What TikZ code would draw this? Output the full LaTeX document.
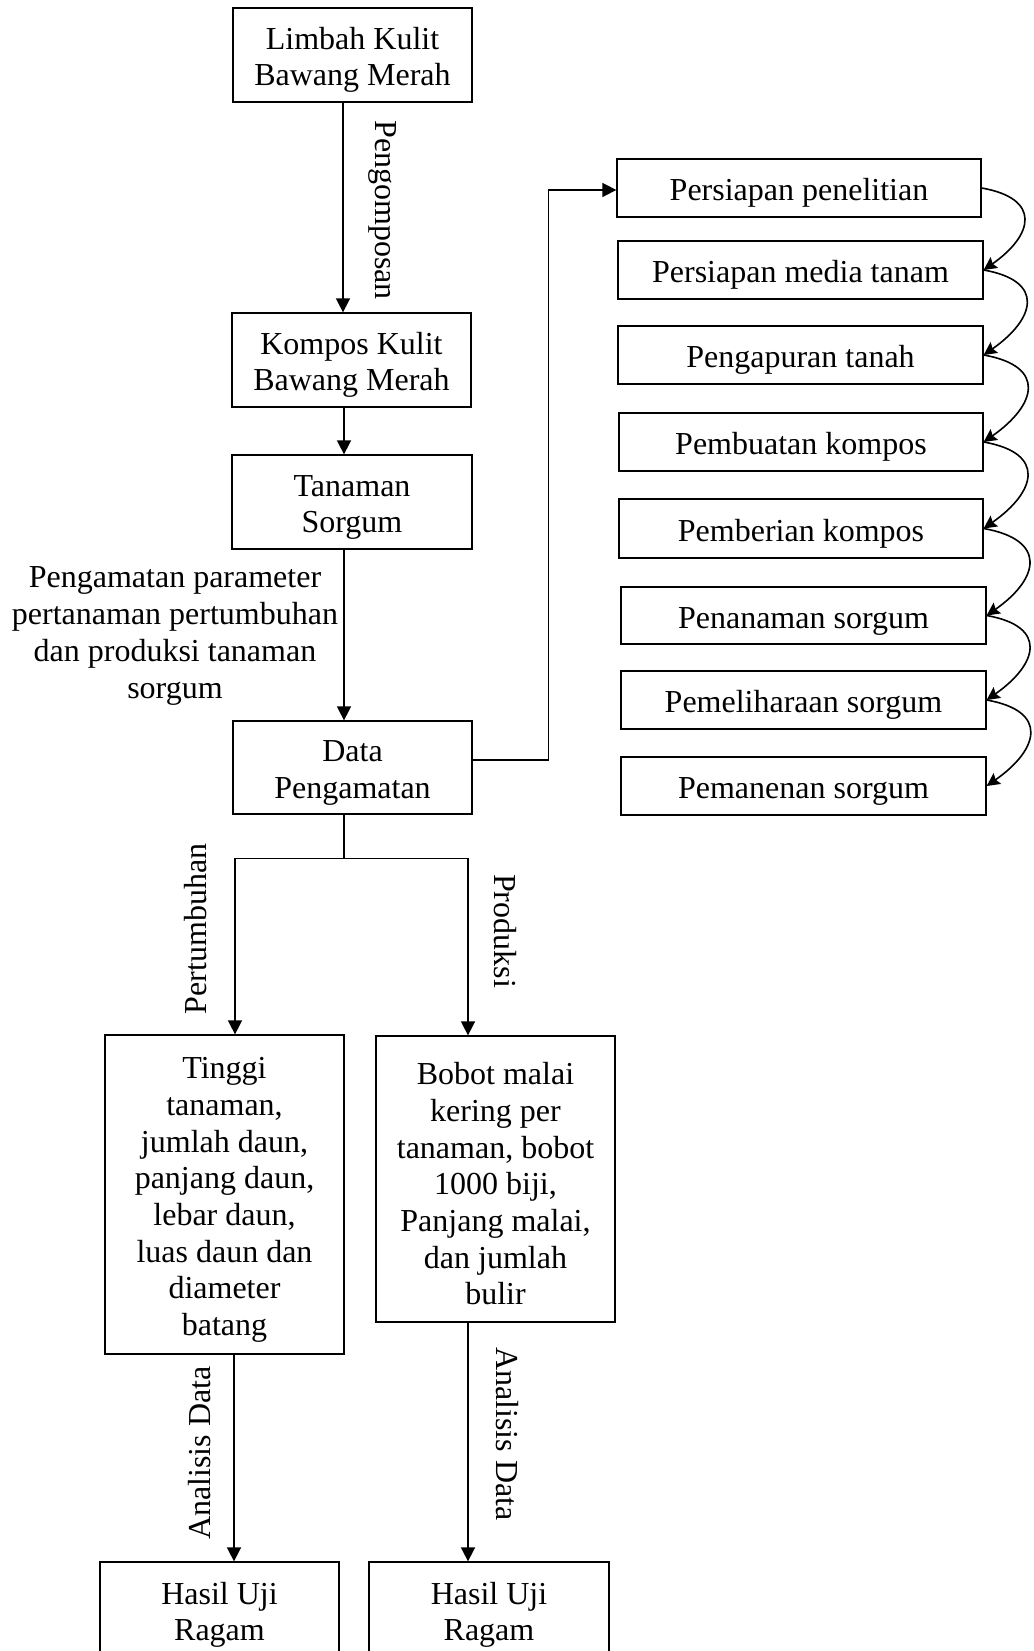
\documentclass[tikz,border=0pt]{standalone}
\usepackage{fontspec}
\setmainfont{Liberation Serif}
\usetikzlibrary{arrows.meta}
\newcommand\fsz{\fontsize{32}{36.7}\selectfont}
\newcommand\tp{\rule{0pt}{32pt}}
\tikzset{
 box/.style={draw, line width=1.3pt, inner sep=0pt, align=center, font=\fsz},
 arr/.style={line width=1.6pt, -{Triangle[width=14pt,length=14pt]}},
 carr/.style={line width=1.6pt, -{Stealth[width=13pt,length=13pt,inset=2pt]}},
 lbl/.style={font=\fsz, inner sep=0pt, align=center}
}
\begin{document}
\begin{tikzpicture}[x=1pt,y=1pt]
\useasboundingbox (0,0) rectangle (1033,-1651);
\clip (0,0) rectangle (1033,-1651);
% left column
\node[box, minimum width=239pt, minimum height=94pt] (limbah) at (352.5,-55) {\tp Limbah Kulit\\Bawang Merah};
\node[box, minimum width=239pt, minimum height=94pt] (kompos) at (351.5,-360) {\tp Kompos Kulit\\Bawang Merah};
\node[box, minimum width=240pt, minimum height=94pt] (tanaman) at (352,-502) {\tp Tanaman\\Sorgum};
\node[box, minimum width=239pt, minimum height=93pt] (data) at (352.5,-767.5) {\tp Data\\Pengamatan};
% right column
\node[box, minimum width=364pt, minimum height=58pt] (p1) at (799,-188) {\tp Persiapan penelitian};
\node[box, minimum width=365pt, minimum height=58pt] (p2) at (800.5,-270) {\tp Persiapan media tanam};
\node[box, minimum width=365pt, minimum height=58pt] (p3) at (800.5,-355) {\tp Pengapuran tanah};
\node[box, minimum width=364pt, minimum height=58pt] (p4) at (801,-442) {\tp Pembuatan kompos};
\node[box, minimum width=364pt, minimum height=59pt] (p5) at (801,-528.5) {\tp Pemberian kompos};
\node[box, minimum width=365pt, minimum height=57pt] (p6) at (803.5,-615.5) {\tp Penanaman sorgum};
\node[box, minimum width=365pt, minimum height=58pt] (p7) at (803.5,-700) {\tp Pemeliharaan sorgum};
\node[box, minimum width=365pt, minimum height=58pt] (p8) at (803.5,-786) {\tp Pemanenan sorgum};
% bottom
\node[box, minimum width=239pt, minimum height=319pt] (tinggi) at (224.5,-1194.5) {\tp Tinggi\\tanaman,\\jumlah daun,\\panjang daun,\\lebar daun,\\luas daun dan\\diameter\\batang};
\node[box, minimum width=239pt, minimum height=286pt] (bobot) at (495.5,-1179) {\tp Bobot malai\\kering per\\tanaman, bobot\\1000 biji,\\Panjang malai,\\dan jumlah\\bulir};
\node[box, minimum width=239pt, minimum height=96pt] (hasila) at (219.5,-1610) {\tp Hasil Uji\\Ragam};
\node[box, minimum width=240pt, minimum height=96pt] (hasilb) at (489,-1610) {\tp Hasil Uji\\Ragam};
% labels
\node[lbl, rotate=-90] (lpeng) at (383,-210) {Pengomposan};
\node[lbl] (lamat) at (175,-636) {Pengamatan parameter\\pertanaman pertumbuhan\\dan produksi tanaman\\sorgum};
\node[lbl, rotate=90] (ltumbuh) at (196,-929) {Pertumbuhan};
\node[lbl, rotate=-90] (lprod) at (505,-931) {Produksi};
\node[lbl, rotate=90] (lanaa) at (200,-1453) {Analisis Data};
\node[lbl, rotate=-90] (lanab) at (507,-1434) {Analisis Data};
% connectors
\draw[arr] ([xshift=-9.5pt]limbah.south) -- ([xshift=-9.5pt]limbah.south |- kompos.north);
\draw[arr] ([xshift=-7.5pt]kompos.south) -- ([xshift=-7.5pt]kompos.south |- tanaman.north);
\draw[arr] ([xshift=-8pt]tanaman.south) -- ([xshift=-8pt]tanaman.south |- data.north);
\draw[arr] ([yshift=7.5pt]data.east) -- ++(76,0) |- ([yshift=-2pt]p1.west);
\draw[line width=1.6pt] ([xshift=-8.5pt]data.south) -- ++(0,-44) coordinate (br);
\draw[arr] (br) -| ([xshift=10.5pt]tinggi.north);
\draw[arr] (br) -| ([xshift=-27.5pt]bobot.north);
\draw[arr] ([xshift=9.5pt]tinggi.south) -- ([xshift=9.5pt]tinggi.south |- hasila.north);
\draw[arr] ([xshift=-27.5pt]bobot.south) -- ([xshift=-27.5pt]bobot.south |- hasilb.north);
\foreach \a/\b in {p1/p2,p2/p3,p3/p4,p4/p5,p5/p6,p6/p7,p7/p8}
  \draw[carr] (\a.east) to[out=-10,in=35,looseness=1.9] (\b.east);
\end{tikzpicture}
\end{document}
